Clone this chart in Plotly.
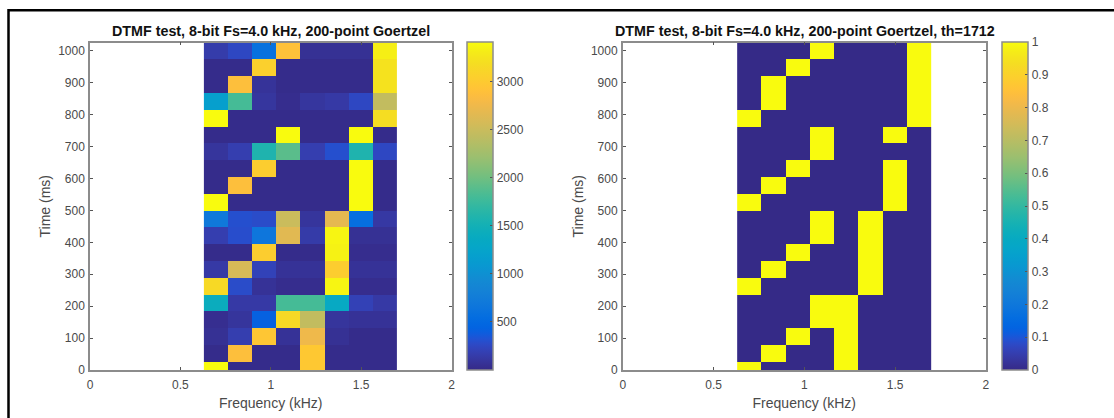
import plotly.graph_objects as go

W, H = 1114, 418

parula = [
 (0.2081,0.1663,0.5292),(0.2116,0.1898,0.5777),(0.2123,0.2138,0.6270),(0.2081,0.2386,0.6771),
 (0.1959,0.2645,0.7279),(0.1707,0.2919,0.7792),(0.1253,0.3242,0.8303),(0.0591,0.3598,0.8683),
 (0.0117,0.3875,0.8820),(0.0060,0.4086,0.8828),(0.0165,0.4266,0.8786),(0.0329,0.4430,0.8720),
 (0.0498,0.4586,0.8641),(0.0629,0.4737,0.8554),(0.0723,0.4887,0.8467),(0.0779,0.5040,0.8384),
 (0.0793,0.5200,0.8312),(0.0749,0.5375,0.8263),(0.0641,0.5570,0.8240),(0.0488,0.5772,0.8228),
 (0.0343,0.5966,0.8199),(0.0265,0.6137,0.8135),(0.0239,0.6287,0.8038),(0.0231,0.6418,0.7913),
 (0.0228,0.6535,0.7768),(0.0267,0.6642,0.7607),(0.0384,0.6743,0.7436),(0.0590,0.6838,0.7254),
 (0.0843,0.6928,0.7062),(0.1133,0.7015,0.6859),(0.1453,0.7098,0.6646),(0.1801,0.7177,0.6424),
 (0.2178,0.7250,0.6193),(0.2586,0.7317,0.5954),(0.3022,0.7376,0.5712),(0.3482,0.7424,0.5473),
 (0.3953,0.7459,0.5244),(0.4420,0.7481,0.5033),(0.4871,0.7491,0.4840),(0.5300,0.7491,0.4661),
 (0.5709,0.7485,0.4494),(0.6099,0.7473,0.4337),(0.6473,0.7456,0.4188),(0.6834,0.7435,0.4044),
 (0.7184,0.7411,0.3905),(0.7525,0.7384,0.3768),(0.7858,0.7356,0.3633),(0.8185,0.7327,0.3498),
 (0.8507,0.7299,0.3360),(0.8824,0.7274,0.3217),(0.9139,0.7258,0.3063),(0.9450,0.7261,0.2886),
 (0.9739,0.7314,0.2666),(0.9938,0.7455,0.2403),(0.9990,0.7653,0.2164),(0.9955,0.7861,0.1967),
 (0.9880,0.8066,0.1794),(0.9789,0.8271,0.1633),(0.9697,0.8481,0.1475),(0.9626,0.8705,0.1309),
 (0.9589,0.8949,0.1132),(0.9598,0.9218,0.0948),(0.9661,0.9514,0.0755),(0.9763,0.9831,0.0538)]
colorscale = [[i / 63, f"rgb({r*255:.0f},{g*255:.0f},{b*255:.0f})"] for i, (r, g, b) in enumerate(parula)]

freq_start_khz = 0.697
freq_step_khz = 0.1337
time_start_ms = 0
time_step_ms = 52.63

# Rows listed from the top of the picture (latest time) down to time 0
power = [
 [150, 250, 600, 2900, 60, 60, 60, 3330],
 [20, 20, 3050, 20, 20, 20, 20, 3230],
 [20, 2880, 80, 20, 20, 20, 20, 3230],
 [1180, 1800, 100, 30, 100, 130, 250, 2450],
 [3410, 20, 20, 20, 20, 20, 20, 3180],
 [20, 20, 20, 3410, 20, 20, 3410, 20],
 [90, 170, 1580, 1900, 170, 300, 1580, 250],
 [20, 20, 3020, 20, 20, 20, 3410, 20],
 [20, 2880, 20, 20, 20, 20, 3410, 20],
 [3410, 20, 20, 20, 20, 20, 3410, 20],
 [700, 300, 280, 2500, 90, 2680, 570, 120],
 [170, 290, 660, 2650, 140, 3370, 60, 60],
 [20, 20, 3020, 20, 20, 3350, 30, 30],
 [130, 2580, 210, 70, 70, 3020, 70, 70],
 [3150, 280, 70, 30, 30, 3370, 30, 30],
 [1420, 130, 130, 1800, 1800, 1340, 200, 130],
 [40, 90, 420, 3150, 2450, 90, 70, 70],
 [60, 170, 2950, 70, 2750, 60, 20, 20],
 [20, 2880, 20, 20, 2980, 20, 20, 20],
 [3410, 20, 20, 20, 2980, 20, 20, 20],
][::-1]

detected = [
 [0, 0, 0, 1, 0, 0, 0, 1],
 [0, 0, 1, 0, 0, 0, 0, 1],
 [0, 1, 0, 0, 0, 0, 0, 1],
 [0, 1, 0, 0, 0, 0, 0, 1],
 [1, 0, 0, 0, 0, 0, 0, 1],
 [0, 0, 0, 1, 0, 0, 1, 0],
 [0, 0, 0, 1, 0, 0, 0, 0],
 [0, 0, 1, 0, 0, 0, 1, 0],
 [0, 1, 0, 0, 0, 0, 1, 0],
 [1, 0, 0, 0, 0, 0, 1, 0],
 [0, 0, 0, 1, 0, 1, 0, 0],
 [0, 0, 0, 1, 0, 1, 0, 0],
 [0, 0, 1, 0, 0, 1, 0, 0],
 [0, 1, 0, 0, 0, 1, 0, 0],
 [1, 0, 0, 0, 0, 1, 0, 0],
 [0, 0, 0, 1, 1, 0, 0, 0],
 [0, 0, 0, 1, 1, 0, 0, 0],
 [0, 0, 1, 0, 1, 0, 0, 0],
 [0, 1, 0, 0, 1, 0, 0, 0],
 [1, 0, 0, 0, 1, 0, 0, 0],
][::-1]

title_left = "DTMF test, 8-bit Fs=4.0 kHz, 200-point Goertzel"
title_right = "DTMF test, 8-bit Fs=4.0 kHz, 200-point Goertzel, th=1712"
x_label = "Frequency (kHz)"
y_label = "Time (ms)"
x_ticks = [0, 0.5, 1, 1.5, 2]
x_tick_labels = ["0", "0.5", "1", "1.5", "2"]
y_ticks = [0, 100, 200, 300, 400, 500, 600, 700, 800, 900, 1000]
cbar_left_ticks = [500, 1000, 1500, 2000, 2500, 3000]
cbar_right_ticks = [0, 0.1, 0.2, 0.3, 0.4, 0.5, 0.6, 0.7, 0.8, 0.9, 1]
cbar_right_labels = ["0", "0.1", "0.2", "0.3", "0.4", "0.5", "0.6", "0.7", "0.8", "0.9", "1"]

FONT = "Liberation Sans"
TXT = "#4a4a4a"
AX = "#8c8c8c"
TOP, BOT = 42.5, 370
PX = lambda v: v / W
PY = lambda v: 1 - v / H


def cbar(x, ticks, labels=None):
    d = dict(x=PX(x), xref="paper", xanchor="left", xpad=0, ypad=0,
             y=PY(BOT), yref="paper", yanchor="bottom",
             lenmode="pixels", len=BOT - TOP, thickness=26, thicknessmode="pixels",
             outlinecolor=AX, outlinewidth=1.5,
             ticks="inside", ticklen=3, tickcolor="#555555", tickwidth=1,
             tickvals=ticks, tickfont=dict(family=FONT, size=12, color=TXT))
    if labels:
        d["ticktext"] = labels
    return d


fig = go.Figure()
fig.add_trace(go.Heatmap(z=power, x0=freq_start_khz, dx=freq_step_khz, y0=time_start_ms, dy=time_step_ms,
                         zmin=0, zmax=3410, colorscale=colorscale, xaxis="x", yaxis="y",
                         colorbar=cbar(467.5, cbar_left_ticks)))
fig.add_trace(go.Heatmap(z=detected, x0=freq_start_khz, dx=freq_step_khz, y0=time_start_ms, dy=time_step_ms,
                         zmin=0, zmax=1, colorscale=colorscale, xaxis="x2", yaxis="y2",
                         colorbar=cbar(1001.7, cbar_right_ticks, cbar_right_labels)))

axis = dict(showgrid=False, zeroline=False, showline=True, linecolor=AX, linewidth=1.5,
            mirror="ticks", ticks="inside", ticklen=3, tickcolor="#555555", tickwidth=1,
            tickfont=dict(family=FONT, size=12, color=TXT), layer="above traces")
xa = dict(axis, range=[0, 2], tickvals=x_ticks, ticktext=x_tick_labels, ticklabelstandoff=3,
          title=dict(text=x_label, font=dict(family=FONT, size=14, color=TXT), standoff=7))
ya = dict(axis, range=[0, 1026.3], tickvals=y_ticks, ticklabelstandoff=1,
          title=dict(text=y_label, font=dict(family=FONT, size=14, color=TXT), standoff=4))

fig.update_layout(
    width=W, height=H, margin=dict(l=0, r=0, t=0, b=0, autoexpand=False),
    paper_bgcolor="white", plot_bgcolor="white", showlegend=False,
    xaxis=dict(xa, domain=[PX(90), PX(451.5)], anchor="y"),
    yaxis=dict(ya, domain=[PY(BOT), PY(TOP)], anchor="x"),
    xaxis2=dict(xa, domain=[PX(622.8), PX(985.8)], anchor="y2"),
    yaxis2=dict(ya, domain=[PY(BOT), PY(TOP)], anchor="x2"),
    annotations=[
        dict(text=title_left, x=PX(271), y=PY(31), xref="paper", yref="paper", showarrow=False,
             xanchor="center", yanchor="middle",
             font=dict(family=FONT, size=14.3, color="#111111", weight="bold")),
        dict(text=title_right, x=PX(805), y=PY(31), xref="paper", yref="paper", showarrow=False,
             xanchor="center", yanchor="middle",
             font=dict(family=FONT, size=14.3, color="#111111", weight="bold")),
    ],
    shapes=[
        dict(type="path", xref="paper", yref="paper",
             path=f"M {PX(8.5)} 0 L {PX(8.5)} {PY(10.2)} L 1 {PY(10.2)}",
             line=dict(color="black", width=2.5)),
    ],
)
fig.write_html("out.html", config=dict(displayModeBar=False),
               post_script="document.body.style.margin='0';document.body.style.overflow='hidden';")
